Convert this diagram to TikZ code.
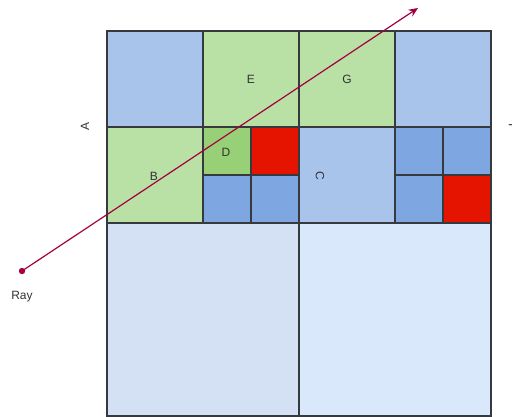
\documentclass[tikz,border=0pt]{standalone}
\usepackage{fontspec}
\setmainfont{Liberation Sans}
\usetikzlibrary{arrows.meta}

\definecolor{cellblue}{HTML}{A9C4EB}
\definecolor{cellgreen}{HTML}{B9E0A5}
\definecolor{darkgreen}{HTML}{97D077}
\definecolor{midblue}{HTML}{7EA6E0}
\definecolor{hitred}{HTML}{E51400}
\definecolor{paleblue}{HTML}{D4E1F5}
\definecolor{lightblue}{HTML}{DAE8FC}
\definecolor{raycol}{HTML}{A50040}
\definecolor{edge}{HTML}{36393D}

\tikzset{
  cell/.style={draw=edge, line width=0.9pt},
  lbl/.style={font=\fontsize{9}{10}\selectfont, text=black!80, inner sep=0pt}
}

\begin{document}
\begin{tikzpicture}[x=0.75pt, y=-0.75pt]
  \useasboundingbox (0,0) rectangle (512,417);
  % lower half
  \filldraw[cell, fill=paleblue] (107,223) rectangle (299,416);
  \filldraw[cell, fill=lightblue] (299,223) rectangle (491,416);
  % upper left quadrant
  \filldraw[cell, fill=cellblue] (107,31) rectangle (203,127);
  \filldraw[cell, fill=cellgreen] (203,31) rectangle (299,127);
  \filldraw[cell, fill=cellgreen] (107,127) rectangle (203,223);
  \filldraw[cell, fill=darkgreen] (203,127) rectangle (251,175);
  \filldraw[cell, fill=hitred] (251,127) rectangle (299,175);
  \filldraw[cell, fill=midblue] (203,175) rectangle (251,223);
  \filldraw[cell, fill=midblue] (251,175) rectangle (299,223);
  % upper right quadrant
  \filldraw[cell, fill=cellgreen] (299,31) rectangle (395,127);
  \filldraw[cell, fill=cellblue] (395,31) rectangle (491,127);
  \filldraw[cell, fill=cellblue] (299,127) rectangle (395,223);
  \filldraw[cell, fill=midblue] (395,127) rectangle (443,175);
  \filldraw[cell, fill=midblue] (443,127) rectangle (491,175);
  \filldraw[cell, fill=midblue] (395,175) rectangle (443,223);
  \filldraw[cell, fill=hitred] (443,175) rectangle (491,223);
  % labels
  \node[lbl] (E) at (251,79) {E};
  \node[lbl] (G) at (347,79) {G};
  \node[lbl] (B) at (154,176) {B};
  \node[lbl] (D) at (226,152) {D};
  \node[lbl, rotate=-90] (C) at (320,176) {C};
  \node[lbl, rotate=90] (A) at (85,127) {A};
  \node[lbl, rotate=-90] (T) at (513,125) {T};
  % ray
  \coordinate (ray) at (22,271);
  \coordinate (tip) at (418,8);
  \draw[raycol, line width=0.9pt, -{Stealth[length=7pt, width=6pt]}] (ray) -- (tip);
  \fill[raycol] (ray) circle (3.2);
  \node[lbl] (raylbl) at (22,297) {Ray};
\end{tikzpicture}
\end{document}
